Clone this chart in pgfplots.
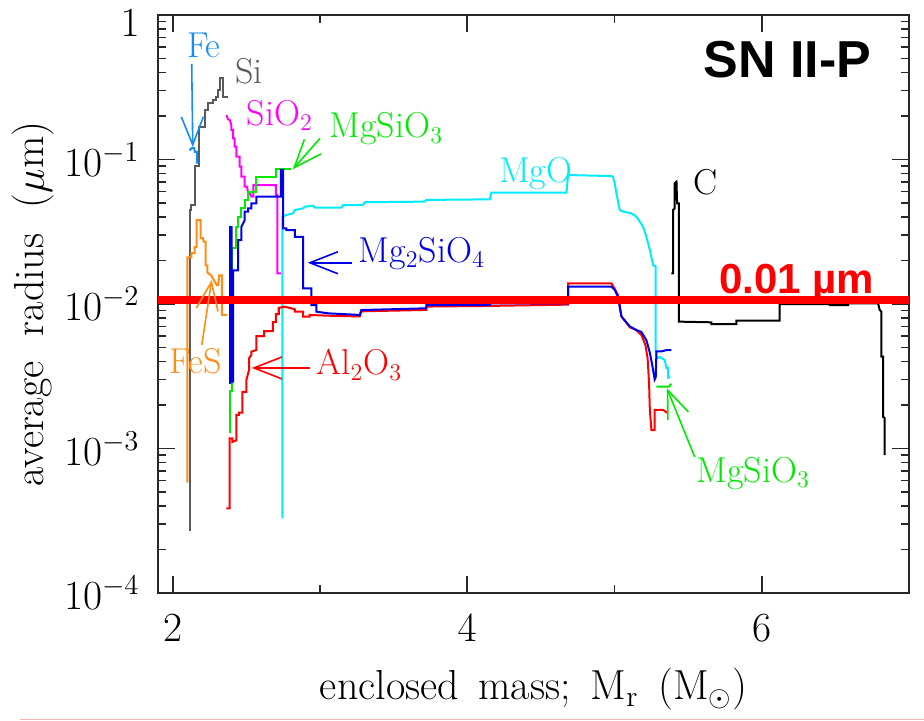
\documentclass[border=0pt]{standalone}
\usepackage{fontspec}
\usepackage{pgfplots}
\pgfplotsset{compat=1.18}
\usetikzlibrary{arrows.meta}
\newfontfamily\arialfont{Liberation Sans}
\definecolor{cFe}{RGB}{20,140,255}
\definecolor{cSi}{RGB}{90,90,90}
\definecolor{cSiO}{RGB}{255,0,255}
\definecolor{cMgSiO}{RGB}{0,235,0}
\definecolor{cMgO}{RGB}{0,235,255}
\definecolor{cMgtwo}{RGB}{0,0,230}
\definecolor{cAl}{RGB}{255,0,0}
\definecolor{cFeS}{RGB}{255,140,20}
\definecolor{cFrame}{RGB}{40,40,40}
\newcommand\lab{\fontsize{18}{20}\selectfont}
\tikzset{ann/.style={line width=0.8pt,-{Straight Barb[length=14pt,width=11pt]}}}
\begin{document}
\begin{tikzpicture}
\useasboundingbox (-79pt,-64pt) rectangle (383pt,296.5pt);
\begin{axis}[
  at={(0,0)}, anchor=south west,
  width=375.5pt, height=289pt, scale only axis,
  xmin=1.9, xmax=7.0, ymode=log, ymin=1e-4, ymax=1,
  xtick={2,4,6}, minor xtick={3,5},
  ytick={1e-4,1e-3,1e-2,1e-1,1},
  yticklabels={$10^{-4}$,$10^{-3}$,$10^{-2}$,$10^{-1}$,\raisebox{-4pt}[\height][0pt]{$1$}},
  tick align=inside, major tick length=8.5pt, minor tick length=4pt,
  axis line style={line width=1pt, cFrame},
  every tick/.style={cFrame, line width=0.8pt},
  tick label style={font=\fontsize{19.5}{21}\selectfont},
  yticklabel style={inner sep=0.5pt, xshift=-8.5pt},
  xticklabel style={inner sep=0.5pt, yshift=-10pt},
  xlabel={enclosed\ \,mass;\ \,M$_{\mathrm{r}}$\ \,(M$_\odot$)},
  ylabel={average\ \ radius\ \ ($\mu$m)},
  label style={font=\fontsize{21}{23}\selectfont},
  xlabel style={at={(axis description cs:0.5,-0.185)}, anchor=base},
  ylabel style={at={(axis description cs:-0.152,0.5)}, anchor=base},
  clip=false,
  every axis plot/.append style={no markers, line width=1pt, line join=miter},
]
% Si
\addplot[cSi] coordinates {(2.115,2.7e-4)(2.115,0.0447)(2.127,0.0447)(2.127,0.0484)(2.149,0.0484)(2.149,0.090)(2.179,0.090)(2.179,0.168)(2.217,0.168)(2.217,0.22)(2.238,0.22)(2.238,0.246)(2.272,0.246)(2.272,0.258)(2.292,0.258)(2.292,0.271)(2.305,0.271)(2.305,0.303)(2.319,0.303)(2.319,0.366)(2.340,0.366)(2.340,0.271)(2.374,0.271)};
% FeS
\addplot[cFeS] coordinates {(2.10,5.8e-4)(2.10,0.021)(2.127,0.021)(2.127,0.0225)(2.149,0.0225)(2.149,0.0248)(2.163,0.0248)(2.163,0.038)(2.19,0.038)(2.19,0.0286)(2.205,0.0286)(2.21,0.027)(2.224,0.027)(2.224,0.0185)(2.235,0.0185)(2.235,0.0165)(2.26,0.0158)(2.30,0.0135)(2.31,0.0135)(2.315,0.0158)(2.333,0.0158)(2.333,0.0084)(2.367,0.0084)};
% Fe
\addplot[cFe] coordinates {(2.115,0.116)(2.13,0.12)(2.145,0.12)(2.15,0.113)(2.165,0.113)(2.165,0.095)(2.18,0.095)};
% SiO2
\addplot[cSiO] coordinates {(2.365,0.203)(2.375,0.19)(2.387,0.1876)(2.399,0.173)(2.399,0.16)(2.41,0.16)(2.41,0.14)(2.421,0.14)(2.421,0.1227)(2.433,0.1227)(2.433,0.1046)(2.455,0.1046)(2.455,0.0891)(2.467,0.0891)(2.467,0.076)(2.489,0.076)(2.489,0.0648)(2.505,0.0648)(2.512,0.0583)(2.523,0.0583)(2.535,0.0553)(2.548,0.0553)(2.548,0.0666)(2.70,0.0666)(2.70,0.057)(2.71,0.057)(2.71,0.0163)(2.735,0.0163)};
% MgSiO3
\addplot[cMgSiO] coordinates {(2.38,1.3e-3)(2.39,1.3e-3)(2.39,2.5e-3)(2.405,2.5e-3)(2.405,0.0243)(2.433,0.0243)(2.433,0.0343)(2.444,0.0343)(2.444,0.0402)(2.467,0.0402)(2.467,0.0459)(2.489,0.0459)(2.489,0.0525)(2.512,0.0525)(2.512,0.0599)(2.568,0.0599)(2.568,0.076)(2.704,0.076)(2.704,0.0855)(2.80,0.0855)};
\addplot[cMgSiO] coordinates {(5.285,2.68e-3)(5.37,2.68e-3)(5.385,2.8e-3)};
% MgO
\addplot[cMgO] coordinates {(2.745,3.29e-4)(2.745,0.0402)(2.772,0.0413)(2.817,0.0424)(2.829,0.0447)(2.885,0.0459)(2.896,0.0471)(2.953,0.0479)(2.964,0.0464)(3.146,0.0464)(3.157,0.0484)(3.292,0.0484)(3.304,0.0506)(3.711,0.0511)(3.723,0.0525)(4.153,0.053)(4.164,0.0589)(4.674,0.0589)(4.685,0.0781)(4.979,0.0768)(4.99,0.076)(5.002,0.0685)(5.013,0.0583)(5.036,0.0447)(5.058,0.0436)(5.115,0.0424)(5.149,0.0402)(5.194,0.0343)(5.217,0.0292)(5.240,0.0236)(5.262,0.0186)(5.280,0.0182)(5.280,0.0048)(5.285,0.0042)(5.307,0.0043)(5.341,0.0041)(5.353,0.0036)(5.364,0.0036)(5.364,0.0031)(5.38,0.0031)};
% Al2O3
\addplot[cAl] coordinates {(2.365,3.86e-4)(2.387,3.86e-4)(2.387,1.175e-3)(2.405,1.175e-3)(2.405,1.11e-3)(2.433,1.14e-3)(2.433,1.71e-3)(2.450,1.71e-3)(2.450,1.77e-3)(2.473,1.77e-3)(2.473,2.47e-3)(2.500,2.47e-3)(2.500,2.98e-3)(2.518,3.49e-3)(2.518,4.21e-3)(2.534,4.44e-3)(2.534,4.68e-3)(2.568,4.81e-3)(2.568,6.0e-3)(2.62,6.0e-3)(2.62,6.5e-3)(2.68,6.5e-3)(2.68,7.5e-3)(2.70,7.5e-3)(2.70,8.5e-3)(2.72,8.5e-3)(2.72,9.4e-3)(2.761,9.58e-3)(2.829,9.19e-3)(2.829,8.85e-3)(2.885,8.85e-3)(2.885,8.17e-3)(2.93,8.17e-3)(2.93,8.4e-3)(3.055,8.3e-3)(3.27,8.2e-3)(3.281,8.9e-3)(3.723,9.1e-3)(3.723,9.6e-3)(4.153,9.7e-3)(4.685,9.9e-3)(4.685,0.0139)(4.979,0.0139)(5.002,0.0127)(5.024,0.0115)(5.047,0.0082)(5.104,0.0069)(5.149,0.0066)(5.183,0.0061)(5.21,0.0052)(5.225,0.0042)(5.235,0.0028)(5.24,0.00185)(5.251,0.00134)(5.273,0.00134)(5.273,0.00185)(5.330,0.00185)(5.364,0.00175)};
% Mg2SiO4
\addplot[cMgtwo] coordinates {(2.39,2.8e-3)(2.39,0.034)(2.40,0.034)(2.40,2.9e-3)(2.41,2.9e-3)(2.41,0.0171)(2.444,0.0171)(2.444,0.0277)(2.467,0.0277)(2.467,0.0343)(2.489,0.0381)(2.489,0.0435)(2.512,0.0435)(2.512,0.0459)(2.534,0.0459)(2.534,0.0498)(2.568,0.0498)(2.568,0.0553)(2.735,0.0553)(2.735,0.0846)(2.749,0.0846)(2.749,0.0334)(2.772,0.0334)(2.772,0.0325)(2.829,0.0325)(2.829,0.0292)(2.885,0.0292)(2.885,0.01285)(2.942,0.01285)(2.942,0.00984)(2.976,0.00984)(2.976,0.00885)(3.055,0.00862)(3.27,0.0084)(3.281,0.00908)(3.723,0.00934)(3.723,0.00984)(4.153,0.00984)(4.153,0.0101)(4.685,0.0101)(4.685,0.0132)(4.979,0.0132)(5.002,0.0125)(5.024,0.0112)(5.047,0.0082)(5.104,0.0070)(5.149,0.0066)(5.183,0.0064)(5.217,0.0056)(5.240,0.0046)(5.258,0.0037)(5.273,0.0030)(5.28,0.0031)(5.285,0.0047)(5.319,0.0047)(5.353,0.0048)(5.387,0.0048)};
% C
\addplot[black] coordinates {(5.387,0.0163)(5.398,0.0163)(5.398,0.0447)(5.409,0.0459)(5.409,0.0685)(5.421,0.0702)(5.425,0.0498)(5.438,0.0498)(5.438,7.55e-3)(5.658,7.47e-3)(5.658,7.27e-3)(5.828,7.27e-3)(5.828,7.66e-3)(6.122,7.66e-3)(6.122,0.01)(6.462,0.01)(6.462,9.84e-3)(6.586,9.84e-3)(6.586,1.01e-2)(6.79,1.01e-2)(6.801,9.1e-3)(6.813,8.85e-3)(6.813,4.33e-3)(6.824,4.33e-3)(6.824,1.66e-3)(6.835,1.62e-3)(6.835,9.0e-4)};
% 0.01 micron line
\addplot[red, line width=4pt] coordinates {(1.9,0.01066)(7.0,0.01066)};

% annotations
\node[cFe, font=\lab, anchor=base] at (axis cs:2.211,0.504) {Fe};
\draw[cFe, ann] (axis cs:2.129,0.458) -- (axis cs:2.136,0.122);
\node[cSi, font=\lab, anchor=base west] at (axis cs:2.378,0.338) {Si};
\node[cSiO, font=\lab, anchor=base west] at (axis cs:2.455,0.173) {SiO$_2$};
\node[cMgSiO, font=\lab, anchor=base west] at (axis cs:3.019,0.141) {MgSiO$_3$};
\draw[cMgSiO, ann] (axis cs:3.0,0.14) -- (axis cs:2.815,0.0855);
\node[cMgO, font=\lab, anchor=base west] at (axis cs:4.17,0.069) {MgO};
\node[cMgtwo, font=\lab, anchor=base west] at (axis cs:3.216,0.0195) {Mg$_2$SiO$_4$};
\draw[cMgtwo, ann] (axis cs:3.216,0.0193) -- (axis cs:2.917,0.0193);
\node[cAl, font=\lab, anchor=base west] at (axis cs:2.93,3.23e-3) {Al$_2$O$_3$};
\draw[cAl, ann] (axis cs:2.93,3.61e-3) -- (axis cs:2.537,3.61e-3);
\node[cFeS, font=\lab, anchor=base] at (axis cs:2.156,3.28e-3) {FeS};
\draw[cFeS, ann] (axis cs:2.197,5.2e-3) -- (axis cs:2.265,0.0147);
\node[cMgSiO, font=\lab, anchor=base west] at (axis cs:5.511,5.86e-4) {MgSiO$_3$};
\draw[cMgSiO, ann] (axis cs:5.545,8.73e-4) -- (axis cs:5.355,2.62e-3);
\node[black, font=\lab, anchor=base west] at (axis cs:5.491,0.0568) {C};
\node[black, font=\arialfont\bfseries\fontsize{26}{28}\selectfont, anchor=base east, inner sep=0pt] at (axis cs:6.747,0.372) {SN II-P};
\node[red, font=\arialfont\bfseries\fontsize{21}{23}\selectfont, anchor=base east, inner sep=0pt] at (axis cs:6.767,0.0119) {0.01 µm};
\end{axis}
\draw[red!30, line width=0.5pt] (-69pt,-63pt) -- (383pt,-63pt);
\end{tikzpicture}
\end{document}
